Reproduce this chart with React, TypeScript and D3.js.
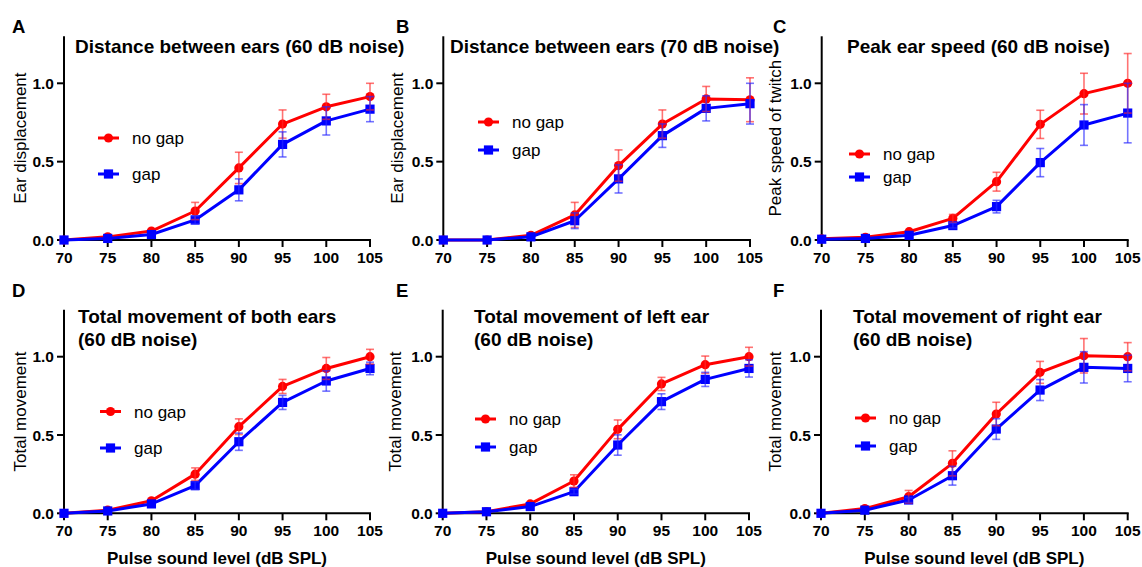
import React from "react";
import * as d3 from "d3";

const levels = [70, 75, 80, 85, 90, 95, 100, 105];
const yTicks = [0, 0.5, 1.0];
const seriesNames = ["no gap", "gap"];

const titles = [
  ["Distance between ears (60 dB noise)"],
  ["Distance between ears (70 dB noise)"],
  ["Peak ear speed (60 dB noise)"],
  ["Total movement of both ears", "(60 dB noise)"],
  ["Total movement of left ear", "(60 dB noise)"],
  ["Total movement of right ear", "(60 dB noise)"],
];
const panelLetters = ["A", "B", "C", "D", "E", "F"];
const yLabels = ["Ear displacement", "Ear displacement", "Peak speed of twitch", "Total movement", "Total movement", "Total movement"];
const xLabel = "Pulse sound level (dB SPL)";

// mean values
const noGapA = [0, 0.02, 0.057, 0.185, 0.46, 0.74, 0.85, 0.915];
const gapA = [0, 0.01, 0.035, 0.128, 0.32, 0.61, 0.76, 0.835];
const noGapB = [0, 0, 0.03, 0.16, 0.475, 0.74, 0.9, 0.895];
const gapB = [0, 0, 0.02, 0.123, 0.39, 0.666, 0.84, 0.87];
const noGapC = [0.008, 0.017, 0.053, 0.138, 0.372, 0.738, 0.934, 1.0];
const gapC = [0.005, 0.01, 0.03, 0.092, 0.213, 0.494, 0.734, 0.81];
const noGapD = [0, 0.02, 0.08, 0.25, 0.553, 0.81, 0.925, 1.0];
const gapD = [0, 0.015, 0.06, 0.177, 0.457, 0.708, 0.845, 0.925];
const noGapE = [0, 0.01, 0.06, 0.206, 0.536, 0.826, 0.949, 1.0];
const gapE = [0, 0.01, 0.043, 0.138, 0.436, 0.713, 0.855, 0.925];
const noGapF = [0, 0.03, 0.106, 0.319, 0.634, 0.9, 1.006, 1.0];
const gapF = [0, 0.02, 0.085, 0.24, 0.538, 0.787, 0.932, 0.925];

// error (SEM)
const noGapErrA = [0, 0.005, 0.01, 0.055, 0.1, 0.09, 0.08, 0.085];
const gapErrA = [0, 0.005, 0.01, 0.025, 0.07, 0.08, 0.09, 0.08];
const noGapErrB = [0, 0, 0.01, 0.08, 0.1, 0.09, 0.08, 0.14];
const gapErrB = [0, 0, 0.01, 0.05, 0.09, 0.075, 0.08, 0.13];
const noGapErrC = [0.003, 0.005, 0.01, 0.025, 0.06, 0.09, 0.13, 0.19];
const gapErrC = [0.003, 0.004, 0.01, 0.015, 0.04, 0.09, 0.13, 0.19];
const noGapErrD = [0, 0.005, 0.01, 0.04, 0.05, 0.045, 0.07, 0.047];
const gapErrD = [0, 0.005, 0.01, 0.025, 0.055, 0.045, 0.065, 0.04];
const noGapErrE = [0, 0.004, 0.01, 0.04, 0.06, 0.042, 0.055, 0.06];
const gapErrE = [0, 0.004, 0.01, 0.015, 0.065, 0.05, 0.045, 0.055];
const noGapErrF = [0, 0.008, 0.04, 0.08, 0.075, 0.07, 0.11, 0.09];
const gapErrF = [0, 0.008, 0.015, 0.06, 0.066, 0.067, 0.1, 0.085];

const panelData = [
  [noGapA, gapA, noGapErrA, gapErrA],
  [noGapB, gapB, noGapErrB, gapErrB],
  [noGapC, gapC, noGapErrC, gapErrC],
  [noGapD, gapD, noGapErrD, gapErrD],
  [noGapE, gapE, noGapErrE, gapErrE],
  [noGapF, gapF, noGapErrF, gapErrF],
];

// layout
const layout = [
  { x0: 64, x1: 370, y0: 240, y1: 83.3, tx: 75, ty: 53, lx: 12, ly: 33, ylx: 20, legX: 98, legY: [138, 174] },
  { x0: 443.3, x1: 750, y0: 240, y1: 83.3, tx: 450, ty: 53, lx: 396, ly: 33, ylx: 397, legX: 478, legY: [122, 150] },
  { x0: 821.7, x1: 1127.7, y0: 240, y1: 83.3, tx: 847, ty: 53, lx: 773, ly: 33, ylx: 775, legX: 849, legY: [154, 177] },
  { x0: 64, x1: 370, y0: 513.3, y1: 356.7, tx: 78, ty: 322.5, lx: 12, ly: 297, ylx: 20, legX: 100, legY: [411.5, 448] },
  { x0: 442.7, x1: 749, y0: 513.3, y1: 356.7, tx: 474, ty: 322.5, lx: 396, ly: 297, ylx: 395, legX: 475, legY: [419, 447] },
  { x0: 821, x1: 1127.7, y0: 513.3, y1: 356.7, tx: 853, ty: 322.5, lx: 773, ly: 297, ylx: 775, legX: 855, legY: [418, 446] },
];

const colors = ["#ff0000", "#0000ff"];
const errColors = ["rgba(255,40,40,0.65)", "rgba(40,40,255,0.65)"];
const font = "Arial, 'Liberation Sans', Helvetica, sans-serif";

function Marker({ kind, x, y }: { kind: number; x: number; y: number }) {
  if (kind === 0) return <circle cx={x} cy={y} r={4.6} fill={colors[0]} />;
  return <rect x={x - 4.6} y={y - 4.6} width={9.2} height={9.2} fill={colors[1]} />;
}

function Panel({ i }: { i: number }) {
  const L = layout[i];
  const [a, b, ea, eb] = panelData[i];
  const x = d3.scaleLinear().domain([70, 105]).range([L.x0, L.x1]);
  const y = d3.scaleLinear().domain([0, 1]).range([L.y0, L.y1]);
  const yTop = y(1.3);
  const series = [a, b];
  const errs = [ea, eb];
  const line = d3
    .line<number>()
    .x((_, k) => x(levels[k]))
    .y((v) => y(v));
  const ylCenter = (y(0) + yTop) / 2;
  return (
    <g>
      <text x={L.lx} y={L.ly} fontSize={18.5} fontWeight="bold" fontFamily={font}>
        {panelLetters[i]}
      </text>
      {/* axes */}
      <line x1={x(70)} x2={x(70)} y1={yTop} y2={y(0)} stroke="#000" strokeWidth={2} />
      <line x1={x(70) - 1} x2={x(105) + 1} y1={y(0)} y2={y(0)} stroke="#000" strokeWidth={2} />
      {levels.map((lv) => (
        <g key={lv}>
          <line x1={x(lv)} x2={x(lv)} y1={y(0)} y2={y(0) + 7} stroke="#000" strokeWidth={2} />
          <text x={x(lv)} y={y(0) + 23} textAnchor="middle" fontSize={15.5} fontWeight="bold" fontFamily={font}>
            {lv}
          </text>
        </g>
      ))}
      {yTicks.map((t) => (
        <g key={t}>
          <line x1={x(70) - 7} x2={x(70)} y1={y(t)} y2={y(t)} stroke="#000" strokeWidth={2} />
          <text x={x(70) - 10} y={y(t) + 5.5} textAnchor="end" fontSize={15.5} fontWeight="bold" fontFamily={font}>
            {d3.format(".1f")(t)}
          </text>
        </g>
      ))}
      <text
        transform={`translate(${L.ylx},${ylCenter}) rotate(-90)`}
        textAnchor="middle"
        dominantBaseline="central"
        fontSize={17}
        fontFamily={font}
      >
        {yLabels[i]}
      </text>
      {titles[i].map((t, k) => (
        <text key={k} x={L.tx} y={L.ty + k * 23} fontSize={19} fontWeight="bold" fontFamily={font}>
          {t}
        </text>
      ))}
      {i >= 3 && (
        <text x={(L.x0 + L.x1) / 2} y={564} textAnchor="middle" fontSize={17} fontWeight="bold" fontFamily={font}>
          {xLabel}
        </text>
      )}
      {/* series */}
      {series.map((s, si) => (
        <g key={si}>
          <path d={line(s) || ""} fill="none" stroke={colors[si]} strokeWidth={3} strokeLinejoin="round" />
          {s.map((v, k) => (
            <Marker key={k} kind={si} x={x(levels[k])} y={y(v)} />
          ))}
        </g>
      ))}
      {series.map((s, si) => (
        <g key={"e" + si} stroke={errColors[si]} strokeWidth={1.6}>
          {s.map((v, k) => {
            const e = errs[si][k];
            if (e < 0.012) return null;
            const cx = x(levels[k]);
            return (
              <g key={k}>
                <line x1={cx} x2={cx} y1={y(v - e)} y2={y(v + e)} />
                <line x1={cx - 4} x2={cx + 4} y1={y(v + e)} y2={y(v + e)} />
                <line x1={cx - 4} x2={cx + 4} y1={y(v - e)} y2={y(v - e)} />
              </g>
            );
          })}
        </g>
      ))}
      {/* legend */}
      {seriesNames.map((n, si) => (
        <g key={n}>
          <line x1={L.legX} x2={L.legX + 21} y1={L.legY[si]} y2={L.legY[si]} stroke={colors[si]} strokeWidth={3} />
          <Marker kind={si} x={L.legX + 10.5} y={L.legY[si]} />
          <text x={L.legX + 34} y={L.legY[si] + 6} fontSize={17} fontFamily={font}>
            {n}
          </text>
        </g>
      ))}
    </g>
  );
}

export default function App() {
  return (
    <svg width={1142} height={567} style={{ position: "absolute", left: 0, top: 0, background: "#fff" }}>
      <rect width={1142} height={567} fill="#fff" />
      {layout.map((_, i) => (
        <Panel key={i} i={i} />
      ))}
    </svg>
  );
}
